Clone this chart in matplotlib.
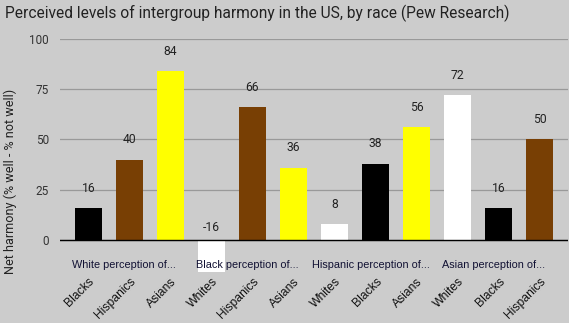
import matplotlib
matplotlib.use("Agg")
import matplotlib.pyplot as plt
import numpy as np

title = "Perceived levels of intergroup harmony in the US, by race (Pew Research)"
ylabel = "Net harmony (% well - % not well)"

groups = ["White perception of...", "Black perception of...",
          "Hispanic perception of...", "Asian perception of..."]
categories = ["Blacks", "Hispanics", "Asians",
              "Whites", "Hispanics", "Asians",
              "Whites", "Blacks", "Asians",
              "Whites", "Blacks", "Hispanics"]
values = [16, 40, 84,
          -16, 66, 36,
          8, 38, 56,
          72, 16, 50]
yticks = [0, 25, 50, 75, 100]

race_colors = {"Blacks": "#000000", "Hispanics": "#783f04",
               "Asians": "#ffff00", "Whites": "#ffffff"}

BG = "#cccccc"
fig = plt.figure(figsize=(5.69, 3.23), dpi=100, facecolor=BG)
ax = fig.add_axes([60 / 569, 1 - 274 / 323, 508 / 569, 235 / 323], facecolor=BG)

x = np.arange(len(values))
colors = [race_colors[c] for c in categories]
ax.bar(x, values, width=0.65, color=colors, zorder=3)

ax.set_xlim(-0.69, len(values) - 1 + 0.69)
ax.set_ylim(-17, 100)

ax.set_yticks(yticks)
ax.set_yticklabels([str(t) for t in yticks], fontsize=8.5, color="#333333",
                   family="Roboto")
ax.tick_params(axis="y", length=0, pad=8)
ax.grid(axis="y", color="#999999", linewidth=0.9, zorder=0)
ax.axhline(0, color="#000000", linewidth=1.0, zorder=4)
for s in ax.spines.values():
    s.set_visible(False)

ax.set_xticks(x)
ax.set_xticklabels(categories, rotation=45, ha="right", rotation_mode="anchor",
                   fontsize=8.7, family="Liberation Sans", color="#111111")
ax.tick_params(axis="x", length=0, pad=1)

# value labels above each bar (negative bars get their label above zero)
for xi, v in zip(x, values):
    base = max(v, 0)
    ax.annotate(str(v), (xi, base), xytext=(0, 9.5 if v > 0 else 4),
                textcoords="offset points", ha="center", va="bottom",
                fontsize=8.7, family="Roboto", color="#222222", zorder=5)

# group captions under the zero line
for gi, g in enumerate(groups):
    cx = gi * 3 + 1 - 0.12
    ax.text(cx, -12.5, g, ha="center", va="center", fontsize=7.8,
            family="Liberation Sans", color="#111133", zorder=6)

ax.set_ylabel(ylabel, fontsize=9.1, family="Roboto", color="#222222")
ax.yaxis.set_label_coords(-0.098, 0.396)
ax.yaxis.label.set_va("center")

fig.text(5 / 569, 1 - 13 / 323, title, ha="left", va="center", fontsize=11.2,
         family="Roboto", color="#222222")

fig.savefig("out.png", dpi=100, facecolor=BG)
